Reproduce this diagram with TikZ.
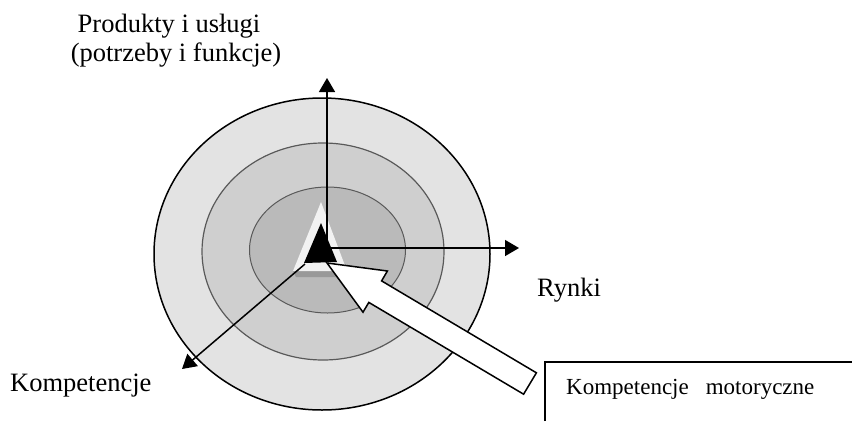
\documentclass[tikz,border=0pt]{standalone}
\usepackage{fontspec}
\setmainfont{Liberation Serif}
\usetikzlibrary{arrows.meta}
\definecolor{ringA}{gray}{0.89}
\definecolor{ringB}{gray}{0.81}
\definecolor{ringC}{gray}{0.73}
\definecolor{ringline}{gray}{0.35}
\definecolor{trilight}{gray}{0.95}
\definecolor{trishadow}{gray}{0.6}
\begin{document}
\begin{tikzpicture}[x=1pt,y=-1pt,
  axis/.style={line width=1.5pt,-{Triangle[length=14pt,width=16pt]}},
  lbl/.style={inner sep=0pt,font=\fontsize{26.5}{31}\selectfont},
  boxtext/.style={inner sep=0pt,anchor=base west,font=\fontsize{23}{27}\selectfont},
]
\useasboundingbox (0,0) rectangle (852,421);
\fill[white] (0,0) rectangle (852,421);
% rings
\filldraw[fill=ringA,draw=black,line width=1.5pt] (322,254) ellipse [x radius=168,y radius=156];
\filldraw[fill=ringB,draw=ringline,line width=1.2pt] (323,251.5) ellipse [x radius=121,y radius=108.5];
\filldraw[fill=ringC,draw=ringline,line width=1pt] (327.5,250) ellipse [x radius=78,y radius=63];
% triangles
\fill[trishadow] (293,271) -- (347,271) -- (344,277) -- (296,277) -- cycle;
\fill[trilight] (321,202) -- (293,271) -- (347,271) -- cycle;
\fill[black] (321,223) -- (304,263) -- (337,262) -- cycle;
% axes
\coordinate (O) at (327,249);
\coordinate (Oh) at (329,248);
\coordinate (up) at (327,78);
\coordinate (right) at (519,248);
\coordinate (dstart) at (305,264);
\coordinate (dl) at (182,369);
\draw[axis] (O) -- (up);
\draw[axis] (Oh) -- (right);
\draw[axis] (dstart) -- (dl);
% big white arrow
\coordinate (T) at (327,263);
\coordinate (wu) at (387.4,271);
\coordinate (nu) at (381.6,280.9);
\coordinate (tu) at (536.4,372.8);
\coordinate (td) at (523.6,394.2);
\coordinate (nd) at (368.8,302.4);
\coordinate (wd) at (363,312.2);
\filldraw[fill=white,draw=black,line width=1.5pt,line join=miter]
  (T) -- (wu) -- (nu) -- (tu) -- (td) -- (nd) -- (wd) -- cycle;
% box
\coordinate (bl) at (545,421);
\coordinate (btl) at (545,362);
\coordinate (btr) at (852,362);
\draw[line width=1.5pt] (bl) -- (btl) -- (btr);
% labels
\node[lbl,anchor=base] (prod1) at (169,32) {Produkty i usługi};
\node[lbl,anchor=base] (prod2) at (176,61) {(potrzeby i funkcje)};
\node[lbl,anchor=base west] (rynki) at (537,296) {Rynki};
\node[lbl,anchor=base west] (komp) at (10,391) {Kompetencje};
\node[boxtext] (motor) at (566,394) {Kompetencje\hspace{17pt}motoryczne};
\end{tikzpicture}
\end{document}
